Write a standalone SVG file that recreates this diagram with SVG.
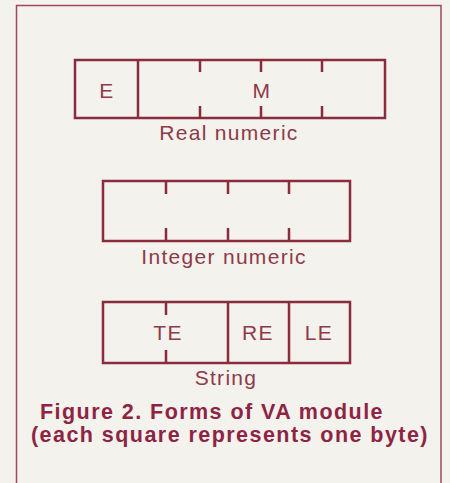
<svg xmlns="http://www.w3.org/2000/svg" width="450" height="483" viewBox="0 0 450 483">
<style>
.bg{fill:#f3f2ec}
.frame{fill:none;stroke:#a2465a;stroke-width:1.5}
.box{fill:none;stroke:#8a2c3c;stroke-width:2.5}
.div{stroke:#8a2c3c;stroke-width:2.5}
.lbl{font-family:"Liberation Sans",Arial,sans-serif;font-size:21px;fill:#8e3a4a;text-anchor:middle;letter-spacing:1.3px}
.cap{font-family:"Liberation Sans",Arial,sans-serif;font-size:21.5px;font-weight:bold;fill:#8e2444;letter-spacing:1.45px}
</style>
<rect class="bg" x="0" y="0" width="450" height="483"/>
<rect class="frame" x="16.5" y="5.5" width="424.5" height="500"/>
<g id="real-numeric">
<rect class="box" x="75" y="60" width="310" height="58"/>
<line class="div" x1="138" y1="60" x2="138" y2="118"/>
<path class="div" d="M200 60V72M200 106V118M261 60V72M261 106V118M322 60V72M322 106V118"/>
<text class="lbl" x="107" y="98">E</text>
<text class="lbl" x="262" y="98">M</text>
<text class="lbl" x="229" y="140">Real numeric</text>
</g>
<g id="integer-numeric">
<rect class="box" x="103" y="181" width="247" height="60"/>
<path class="div" d="M166 181V194M166 228V241M228 181V194M228 228V241M289 181V194M289 228V241"/>
<text class="lbl" x="224" y="264">Integer numeric</text>
</g>
<g id="string">
<rect class="box" x="103" y="302" width="247" height="61"/>
<path class="div" d="M166 302V315M166 350V363M228 302V363M289 302V363"/>
<text class="lbl" x="168" y="340">TE</text>
<text class="lbl" x="258" y="340">RE</text>
<text class="lbl" x="319" y="340">LE</text>
<text class="lbl" x="226" y="385">String</text>
</g>
<g id="caption">
<text class="cap" x="40" y="419">Figure 2. Forms of VA module</text>
<text class="cap" x="31" y="442">(each square represents one byte)</text>
</g>
<g id="connectors"/>
</svg>
